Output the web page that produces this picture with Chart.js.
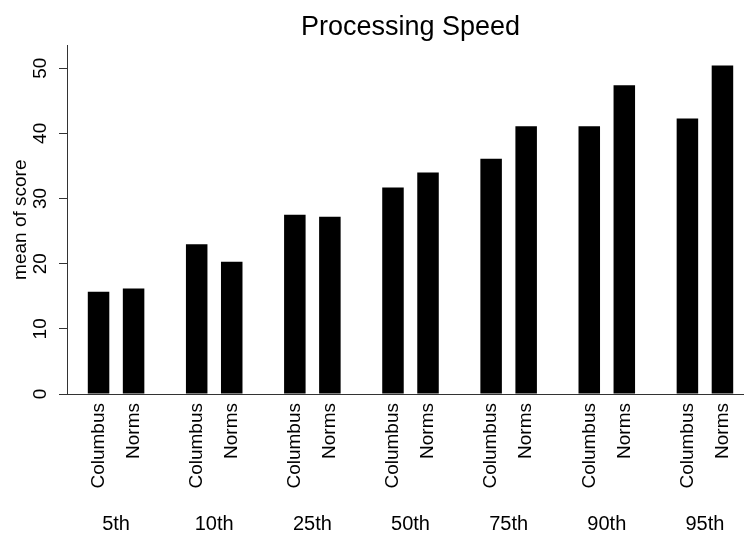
<!DOCTYPE html>
<html>
<head>
<meta charset="utf-8">
<script src="https://cdn.jsdelivr.net/npm/chart.js@4/dist/chart.umd.min.js"></script>
<style>
  body { margin: 0; background: #fff; overflow: hidden; }
  #wrap { width: 756px; height: 536px; }
</style>
</head>
<body>
<div id="wrap"><canvas id="speedChart"></canvas></div>
<script>
const percentiles = ["5th", "10th", "25th", "50th", "75th", "90th", "95th"];
const columbus = [15.7, 23.0, 27.5, 31.7, 36.1, 41.1, 42.3];
const norms = [16.2, 20.3, 27.2, 34.0, 41.1, 47.4, 50.4];
const yTicks = [0, 10, 20, 30, 40, 50];

Chart.defaults.font.family = "'Liberation Sans', Arial, sans-serif";
Chart.defaults.color = "#000";

// rotated "Columbus" / "Norms" under every bar
const barLabels = {
    id: "barLabels",
    afterDraw(chart) {
        let ctx = chart.ctx;
        let y0 = chart.chartArea.bottom + 9;
        ctx.save();
        ctx.font = "19px 'Liberation Sans', Arial, sans-serif";
        ctx.fillStyle = "#000";
        ctx.textAlign = "right";
        ctx.textBaseline = "middle";
        chart.data.datasets.forEach((ds, i) => {
            chart.getDatasetMeta(i).data.forEach(bar => {
                ctx.save();
                ctx.translate(bar.x, y0);
                ctx.rotate(-Math.PI / 2);
                ctx.fillText(ds.label, 0, 0);
                ctx.restore();
            });
        });
        ctx.restore();
    }
};

let ctx = document.getElementById("speedChart").getContext("2d");
new Chart(ctx, {
    type: "bar",
    data: {
        labels: percentiles,
        datasets: [
            { label: "Columbus", data: columbus, backgroundColor: "#000" },
            { label: "Norms", data: norms, backgroundColor: "#000" }
        ]
    },
    options: {
        responsive: true,
        maintainAspectRatio: false,
        animation: false,
        categoryPercentage: 0.714,
        barPercentage: 0.614,
        layout: { padding: { left: 0, right: 2, top: 0, bottom: 0 } },
        plugins: {
            legend: { display: false },
            tooltip: { enabled: false },
            title: {
                display: true,
                text: "Processing Speed",
                fullSize: false,
                color: "#000",
                font: { size: 27, weight: "normal" },
                padding: { top: 11, bottom: 2 }
            }
        },
        scales: {
            x: {
                afterFit: s => {
                    s.height = 142;
                    s.paddingLeft = 0;
                    s.paddingRight = 0;
                },
                grid: { display: false, drawTicks: false },
                border: { display: true, color: "#333", width: 1 },
                ticks: { padding: 118, minRotation: 0, maxRotation: 0, autoSkip: false, font: { size: 20 } }
            },
            y: {
                min: 0,
                max: 53.5,
                afterBuildTicks: s => { s.ticks = yTicks.map(v => ({ value: v })); },
                afterFit: s => { s.width = 67; },
                grid: { drawOnChartArea: false, drawTicks: true, tickLength: 8, color: "#333" },
                border: { display: true, color: "#333", width: 1 },
                ticks: { minRotation: 90, maxRotation: 90, crossAlign: "center", padding: 8, font: { size: 19 } },
                title: {
                    display: true,
                    text: "mean of score",
                    font: { size: 19 },
                    padding: { top: 9, bottom: 0 }
                }
            }
        }
    },
    plugins: [barLabels]
});
</script>
</body>
</html>
